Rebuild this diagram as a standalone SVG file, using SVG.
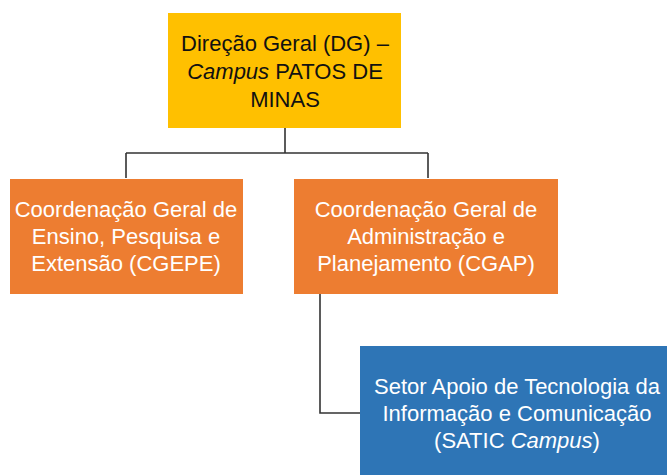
<svg xmlns="http://www.w3.org/2000/svg" width="667" height="475" viewBox="0 0 667 475">
<style>
.t{font-family:"Liberation Sans",Arial,sans-serif;font-size:22px;text-anchor:middle}
.w{fill:#ffffff}
.k{fill:#111111}
.c{fill:none;stroke:#333333;stroke-width:1.6}
</style>
<rect width="667" height="475" fill="#ffffff"/>
<g id="connectors">
<path class="c" d="M285 128V153M126 153H428M126 153V178M428 153V178"/>
<path class="c" d="M320 294V413H360"/>
</g>
<g id="dg">
<rect x="168" y="13" width="233" height="115" fill="#FFC000"/>
<text class="t k" x="285" y="51">Direção Geral (DG) –</text>
<text class="t k" x="285" y="79"><tspan font-style="italic">Campus</tspan> PATOS DE</text>
<text class="t k" x="285" y="107">MINAS</text>
</g>
<g id="cgepe">
<rect x="10" y="179" width="233" height="115" fill="#ED7D31"/>
<text class="t w" x="126" y="217">Coordenação Geral de</text>
<text class="t w" x="126" y="244">Ensino, Pesquisa e</text>
<text class="t w" x="126" y="271">Extensão (CGEPE)</text>
</g>
<g id="cgap">
<rect x="294" y="179" width="264" height="115" fill="#ED7D31"/>
<text class="t w" x="426" y="217">Coordenação Geral de</text>
<text class="t w" x="426" y="244">Administração e</text>
<text class="t w" x="426" y="271">Planejamento (CGAP)</text>
</g>
<g id="satic">
<rect x="360" y="346" width="320" height="140" fill="#2E75B6"/>
<text class="t w" x="517" y="394">Setor Apoio de Tecnologia da</text>
<text class="t w" x="517" y="421">Informação e Comunicação</text>
<text class="t w" x="517" y="448">(SATIC <tspan font-style="italic">Campus</tspan>)</text>
</g>
</svg>
